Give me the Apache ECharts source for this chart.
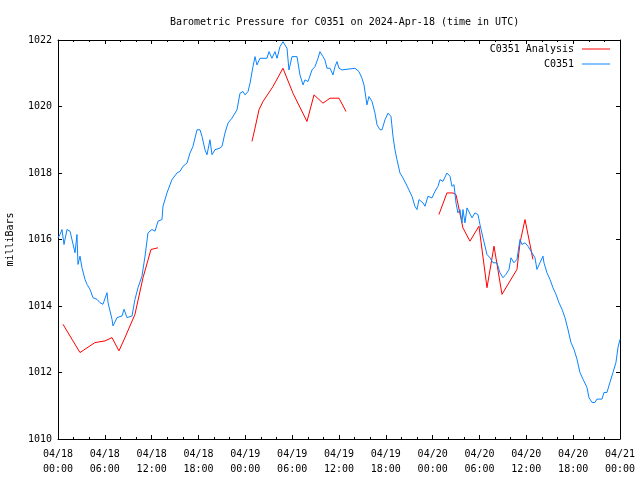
<!DOCTYPE html>
<html>
<head>
<meta charset="utf-8">
<script src="https://cdn.jsdelivr.net/npm/echarts@6/dist/echarts.min.js"></script>
<style>html,body{margin:0;padding:0;background:#fff}#c{width:640px;height:480px}</style>
</head>
<body>
<div id="c"></div>
<script>
// Hours since 2024-04-18 00:00 UTC, pressure in milliBars
const blueHours = [0.0,0.26,0.51,0.77,1.15,1.54,1.79,2.18,2.43,2.56,2.82,3.07,3.46,3.72,4.1,4.48,5.0,5.38,5.76,6.28,6.41,6.92,7.05,7.56,8.2,8.46,8.84,9.48,9.86,10.25,10.76,11.15,11.53,12.04,12.43,12.81,13.32,13.45,13.96,14.6,15.24,15.63,16.01,16.53,16.91,17.29,17.81,18.19,18.45,18.83,19.09,19.47,19.73,20.11,20.75,21.01,21.39,21.78,22.29,22.93,23.32,23.7,23.96,24.34,24.6,24.98,25.24,25.49,25.88,26.77,27.03,27.41,27.8,28.06,28.44,28.82,29.34,29.59,29.98,30.62,31.0,31.39,31.64,32.03,32.54,32.92,33.31,33.56,33.95,34.2,34.46,34.85,35.23,35.49,35.74,36.0,36.38,38.05,38.56,38.94,39.2,39.46,39.58,39.84,40.23,40.61,40.87,41.25,41.51,41.89,42.28,42.66,42.92,43.17,43.43,43.81,44.2,44.84,45.35,45.73,45.99,46.25,46.76,47.01,47.4,47.91,48.3,48.68,48.94,49.32,49.83,50.22,50.47,50.73,50.99,51.24,51.5,51.76,51.88,52.14,52.4,52.65,53.04,53.42,53.8,54.06,54.45,54.96,55.34,55.73,56.24,56.62,57.01,57.39,57.78,58.03,58.42,58.8,59.19,59.44,59.83,60.21,60.72,61.11,61.36,61.75,62.13,62.26,62.64,63.03,63.41,63.8,64.18,64.57,64.95,65.33,65.72,66.1,66.49,66.87,67.26,67.77,68.02,68.41,68.79,69.05,69.69,69.95,70.33,70.71,71.1,71.48,71.74,72.0];
const blueValues = [1016.05,1016.15,1016.3,1015.85,1016.3,1016.25,1016.3,1015.6,1016.15,1015.25,1015.5,1015.15,1014.8,1014.65,1014.5,1014.25,1014.2,1014.1,1014.05,1014.4,1014.1,1013.6,1013.4,1013.65,1013.7,1013.9,1013.65,1013.7,1014.2,1014.55,1014.9,1015.5,1016.2,1016.3,1016.25,1016.55,1016.6,1017.0,1017.4,1017.8,1018.0,1018.05,1018.2,1018.3,1018.6,1018.8,1019.3,1019.3,1019.1,1018.7,1018.55,1019.0,1018.55,1018.7,1018.75,1018.8,1019.2,1019.5,1019.65,1019.9,1020.4,1020.45,1020.35,1020.45,1020.7,1021.2,1021.5,1021.25,1021.45,1021.45,1021.65,1021.45,1021.65,1021.45,1021.8,1021.95,1021.75,1021.1,1021.5,1021.5,1020.95,1020.65,1020.8,1020.75,1021.1,1021.2,1021.45,1021.65,1021.5,1021.4,1021.15,1021.15,1020.95,1021.2,1021.35,1021.15,1021.1,1021.15,1021.05,1020.85,1020.65,1020.25,1020.05,1020.3,1020.15,1019.8,1019.45,1019.3,1019.3,1019.6,1019.8,1019.7,1019.1,1018.7,1018.4,1018.0,1017.85,1017.55,1017.3,1017.0,1016.9,1017.2,1017.1,1017.0,1017.3,1017.25,1017.45,1017.6,1017.8,1017.75,1018.0,1017.9,1017.6,1017.65,1017.1,1016.8,1016.9,1016.5,1016.9,1016.5,1016.95,1017.0,1016.65,1016.8,1016.75,1016.45,1016.05,1015.55,1015.45,1015.3,1015.3,1015.0,1014.85,1014.95,1015.1,1015.45,1015.3,1015.4,1016.0,1015.85,1015.9,1015.8,1015.6,1015.45,1015.1,1015.3,1015.5,1015.3,1015.0,1014.8,1014.55,1014.35,1014.1,1013.9,1013.65,1013.3,1012.9,1012.7,1012.4,1012.0,1011.8,1011.55,1011.25,1011.1,1011.1,1011.2,1011.2,1011.4,1011.4,1011.7,1012.0,1012.3,1012.75,1013.0];

const redHours1 = [0.64,1.79,2.82,4.74,6.02,6.92,7.81,8.58,9.86,10.89,11.91,12.81];
const redValues1 = [1013.45,1013.0,1012.6,1012.9,1012.95,1013.05,1012.65,1013.05,1013.75,1014.85,1015.7,1015.75];
const redHours2 = [24.85,25.24,25.75,26.26,27.54,28.82,30.1,31.9,32.8,33.95,34.85,36.0,36.9];
const redValues2 = [1018.95,1019.35,1019.9,1020.15,1020.6,1021.15,1020.4,1019.55,1020.35,1020.1,1020.25,1020.25,1019.85];
const redHours3 = [48.8,49.83,50.6,50.99,51.88,52.78,53.93,54.96,55.86,56.88,58.8,59.19,59.83,60.85];
const redValues3 = [1016.75,1017.4,1017.4,1017.35,1016.35,1015.95,1016.4,1014.55,1015.8,1014.35,1015.1,1015.9,1016.6,1015.4];

const xTickDays = ['04/18','04/18','04/18','04/18','04/19','04/19','04/19','04/19','04/20','04/20','04/20','04/20','04/21'];
const xTickTimes = ['00:00','06:00','12:00','18:00','00:00','06:00','12:00','18:00','00:00','06:00','12:00','18:00','00:00'];

const titleText = 'Barometric Pressure for C0351 on 2024-Apr-18 (time in UTC)';
const yName = 'milliBars';
const redName = 'C0351 Analysis';
const blueName = 'C0351';

const zip = (a, b) => a.map((v, i) => [v, b[i]]);
const FONT = 'DejaVu Sans Mono';
const RED = '#ff0000';
const BLUE = '#0a84ff';

const chart = echarts.init(document.getElementById('c'), null, {renderer: 'canvas'});

const axisCommonX = {
  type: 'value', min: 0, max: 72, interval: 6,
  axisLine: {show: true, onZero: false, lineStyle: {color: '#000', width: 1}},
  axisTick: {show: true, inside: true, length: 4, lineStyle: {color: '#000'}},
  minorTick: {show: true, splitNumber: 3, length: 2, lineStyle: {color: '#000'}},
  splitLine: {show: false}, minorSplitLine: {show: false}
};
const axisCommonY = {
  type: 'value', min: 1010, max: 1022, interval: 2,
  axisLine: {show: true, onZero: false, lineStyle: {color: '#000', width: 1}},
  axisTick: {show: true, inside: true, length: 4, lineStyle: {color: '#000'}},
  splitLine: {show: false}
};

const redSeries = [zip(redHours1, redValues1), zip(redHours2, redValues2), zip(redHours3, redValues3)].map(d => ({
  name: redName, type: 'line', data: d, showSymbol: false, symbol: 'none',
  lineStyle: {color: RED, width: 1}, itemStyle: {color: RED}
}));

chart.setOption({
  animation: false,
  backgroundColor: '#fff',
  title: {
    text: titleText, left: 165, top: 12,
    textStyle: {fontFamily: FONT, fontSize: 10, fontWeight: 'normal', color: '#000'}
  },
  legend: {
    data: [{name: redName, icon: 'rect'}, {name: blueName, icon: 'rect'}],
    orient: 'vertical', right: 25, top: 39, align: 'right',
    itemWidth: 28, itemHeight: 1, itemGap: 5,
    textStyle: {fontFamily: FONT, fontSize: 10, color: '#000', padding: [0, 3, 0, 0]}
  },
  grid: {left: 58, right: 20, top: 40, bottom: 41, containLabel: false, outerBoundsMode: 'none'},
  xAxis: [
    Object.assign({}, axisCommonX, {
      position: 'bottom',
      axisLabel: {
        show: true, margin: 8, lineHeight: 15, color: '#000', fontFamily: FONT, fontSize: 10,
        formatter: (v) => { const i = Math.round(v / 6); return xTickDays[i] + '\n' + xTickTimes[i]; }
      }
    }),
    Object.assign({}, axisCommonX, {position: 'top', axisLabel: {show: false}})
  ],
  yAxis: [
    Object.assign({}, axisCommonY, {
      position: 'left',
      name: yName, nameLocation: 'middle', nameGap: 43, nameRotate: 90,
      nameTextStyle: {fontFamily: FONT, fontSize: 10, color: '#000'},
      axisLabel: {show: true, margin: 6, color: '#000', fontFamily: FONT, fontSize: 10,
        formatter: (v) => String(v)}
    }),
    Object.assign({}, axisCommonY, {position: 'right', axisLabel: {show: false}})
  ],
  series: redSeries.concat([{
    name: blueName, type: 'line', data: zip(blueHours, blueValues), showSymbol: false, symbol: 'none',
    lineStyle: {color: BLUE, width: 1}, itemStyle: {color: BLUE}
  }])
});
</script>
</body>
</html>
